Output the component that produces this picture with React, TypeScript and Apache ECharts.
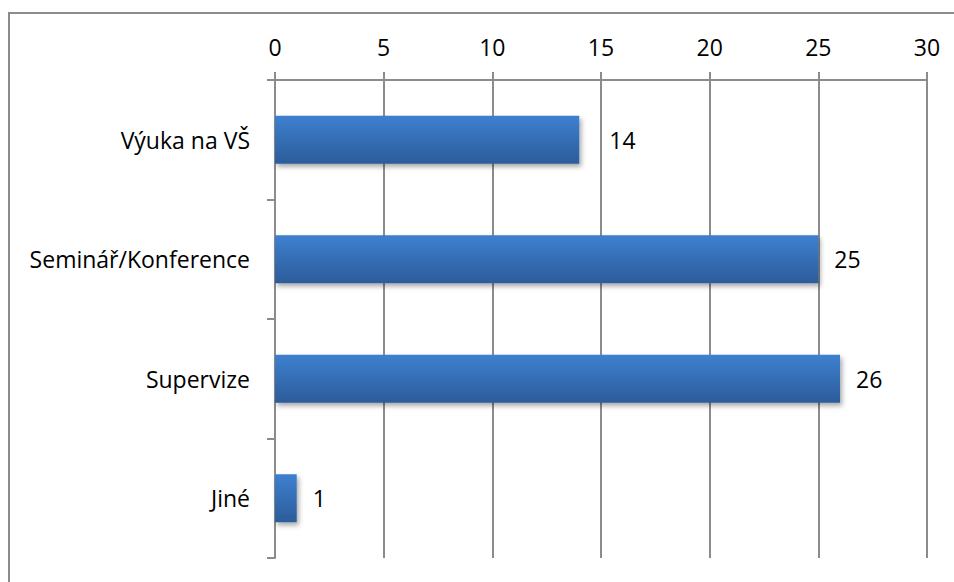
import React, { useEffect, useRef } from "react";
import * as echarts from "echarts";

const categories = ["Výuka na VŠ", "Seminář/Konference", "Supervize", "Jiné"];
const counts = [14, 25, 26, 1];
const axisMax = 30;
const axisStep = 5;

const FONT = "'Open Sans', 'Noto Sans', sans-serif";
const GRID_GRAY = "#8c8c8c";

export default function App() {
  const ref = useRef<HTMLDivElement>(null);

  useEffect(() => {
    if (!ref.current) return;
    const chart = echarts.init(ref.current, null, { renderer: "svg" });

    const barData = counts.map((v, i) => ({
      value: v,
      label: { distance: i === 0 ? 30 : 16 },
    }));

    chart.setOption({
      animation: false,
      backgroundColor: "#ffffff",
      graphic: [
        {
          type: "rect",
          shape: { x: 9, y: 13, width: 1000, height: 1000 },
          style: { fill: "none", stroke: GRID_GRAY, lineWidth: 2 },
          silent: true,
        },
      ],
      grid: { left: 275, right: 27, top: 80, bottom: 24, containLabel: false },
      xAxis: {
        type: "value",
        position: "top",
        min: 0,
        max: axisMax,
        interval: axisStep,
        axisLine: { show: true, lineStyle: { color: GRID_GRAY, width: 2 } },
        axisTick: { show: true, length: 8, lineStyle: { color: GRID_GRAY, width: 2 } },
        axisLabel: { color: "#000", fontFamily: FONT, fontSize: 23, margin: 22 },
        splitLine: { show: true, lineStyle: { color: GRID_GRAY, width: 2 } },
      },
      yAxis: {
        type: "category",
        data: categories,
        inverse: true,
        axisLine: { show: true, lineStyle: { color: GRID_GRAY, width: 2 } },
        axisTick: { show: true, length: 8, lineStyle: { color: GRID_GRAY, width: 2 } },
        axisLabel: { color: "#000", fontFamily: FONT, fontSize: 23, margin: 25 },
        splitLine: { show: false },
      },
      series: [
        {
          type: "bar",
          data: barData,
          barWidth: "40%",
          itemStyle: {
            color: new echarts.graphic.LinearGradient(0, 0, 0, 1, [
              { offset: 0, color: "#3e80d0" },
              { offset: 1, color: "#2c5c9a" },
            ]),
            shadowColor: "rgba(0,0,0,0.35)",
            shadowBlur: 5,
            shadowOffsetX: 2,
            shadowOffsetY: 3,
          },
          label: {
            show: true,
            position: "right",
            color: "#000",
            fontFamily: FONT,
            fontSize: 23,
          },
        },
      ],
    });

    return () => chart.dispose();
  }, []);

  return (
    <div
      ref={ref}
      style={{ position: "absolute", left: 0, top: 0, width: 954, height: 582 }}
    />
  );
}
